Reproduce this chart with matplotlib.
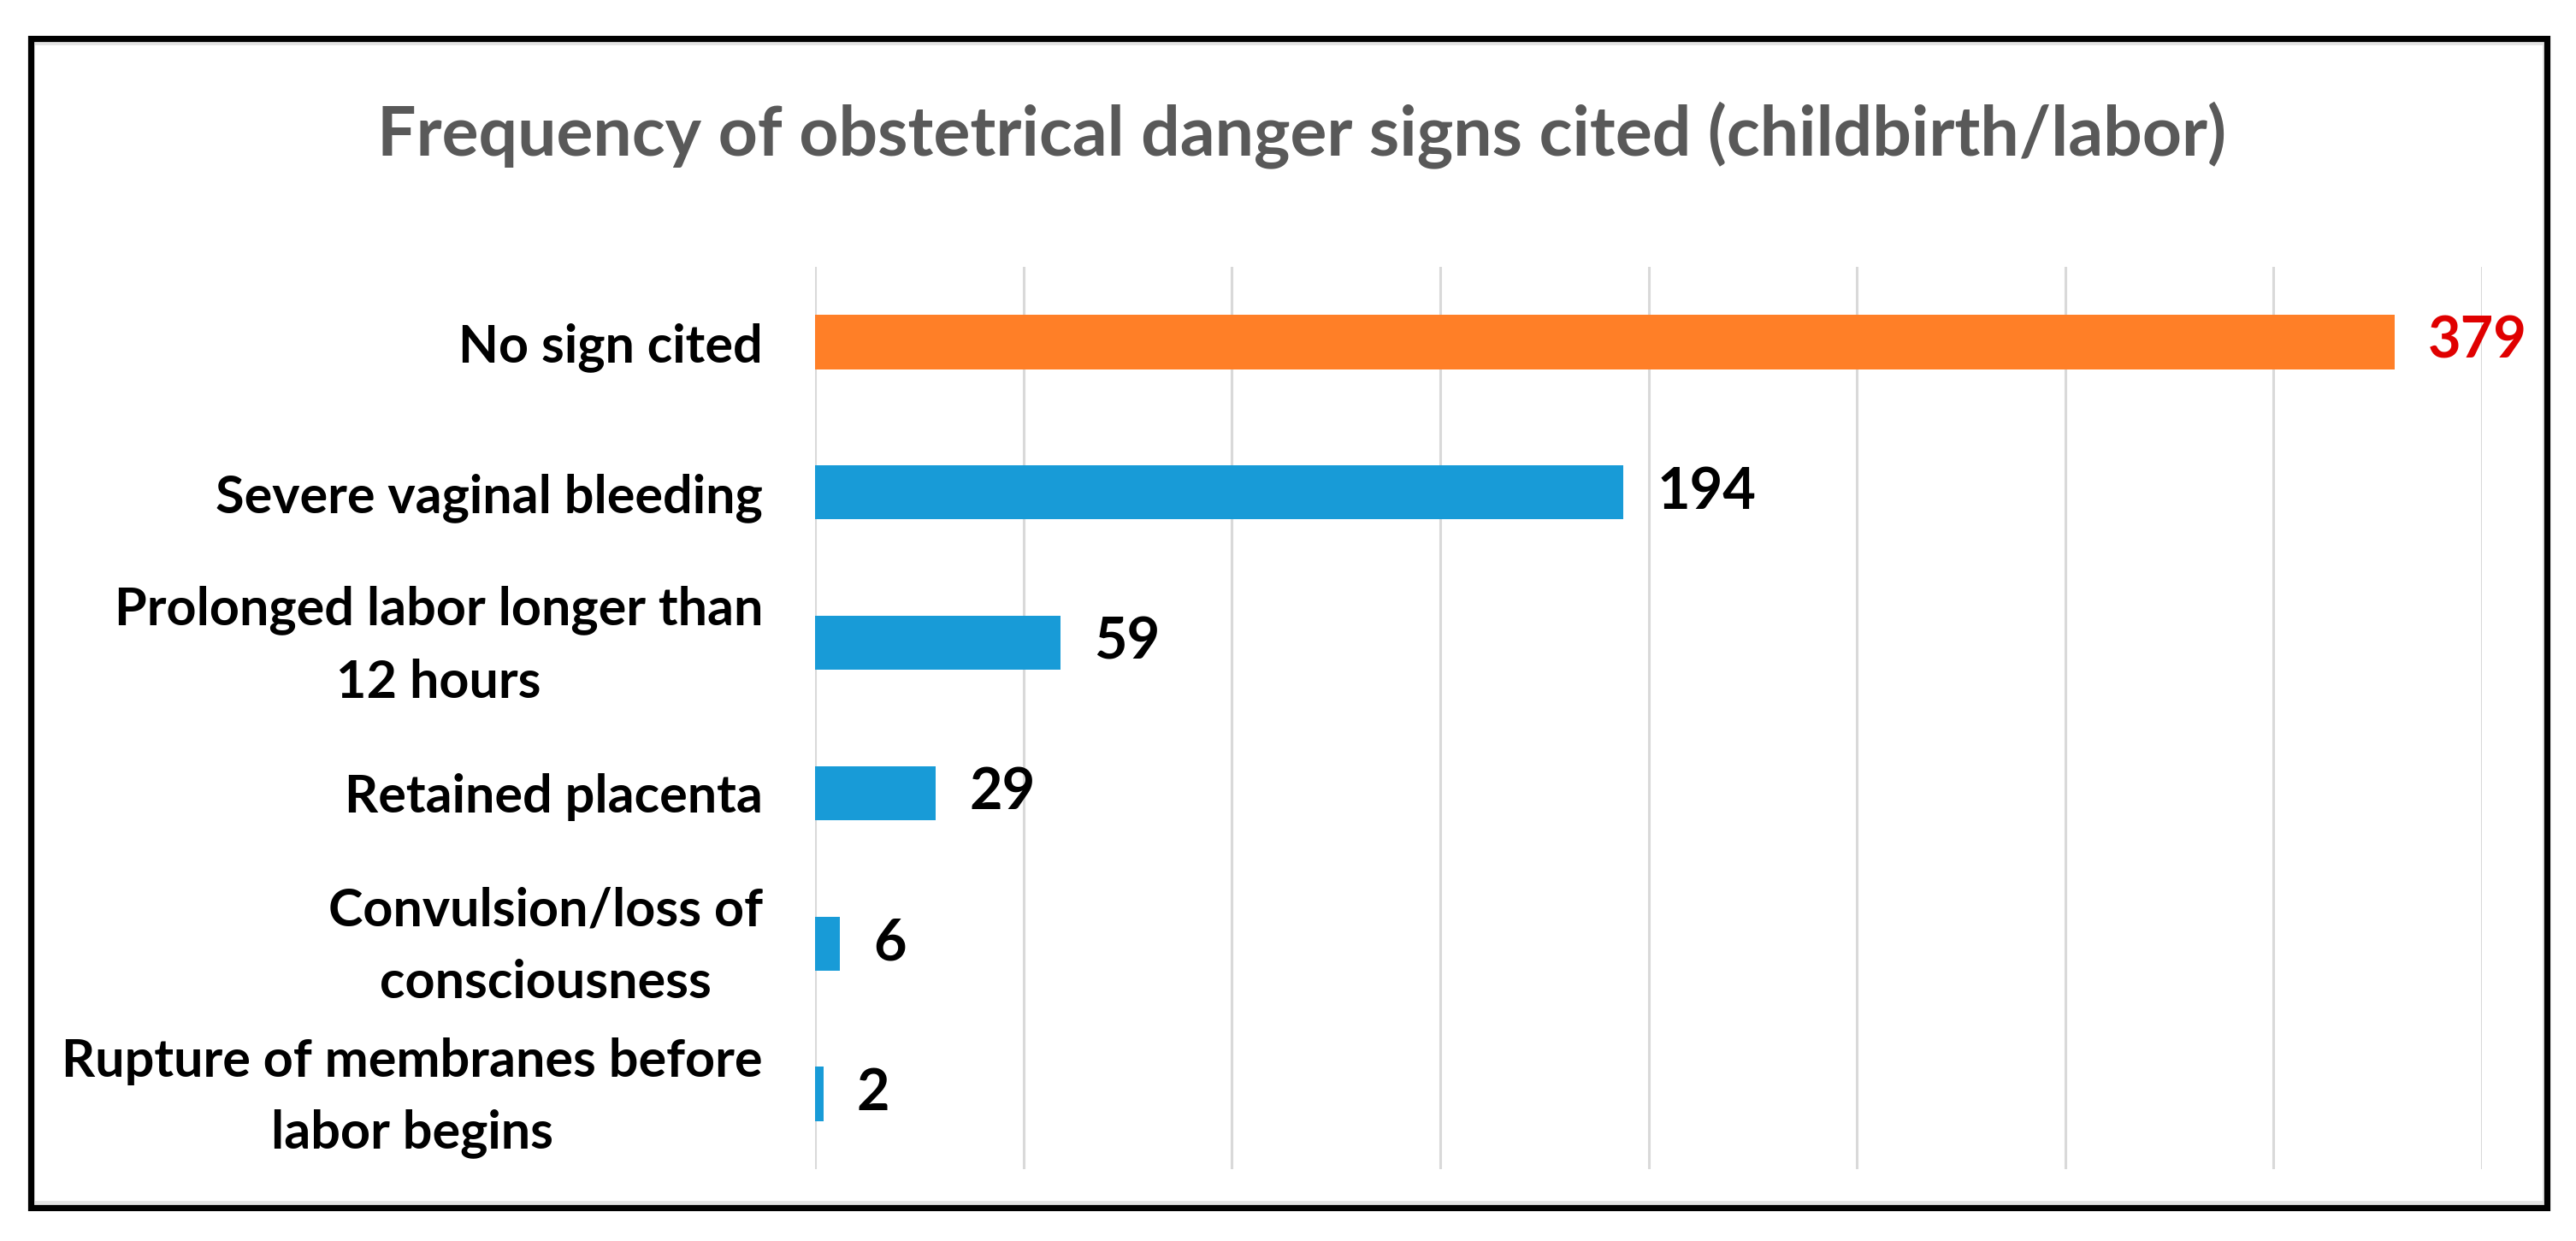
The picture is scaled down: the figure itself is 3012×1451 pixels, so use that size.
import matplotlib
matplotlib.use("Agg")
import matplotlib.pyplot as plt
import matplotlib.transforms as mtransforms
from matplotlib.patches import Rectangle

# data
categories = [
    "No sign cited",
    "Severe vaginal bleeding",
    "Prolonged labor longer than\n12 hours",
    "Retained placenta",
    "Convulsion/loss of\nconsciousness",
    "Rupture of membranes before\nlabor begins",
]
counts = [379, 194, 59, 29, 6, 2]
bar_colors = ["#FF7F27", "#189BD7", "#189BD7", "#189BD7", "#189BD7", "#189BD7"]
label_colors = ["#E00000", "black", "black", "black", "black", "black"]
x_ticks = [0, 50, 100, 150, 200, 250, 300, 350, 400]

title = "Frequency of obstetrical danger signs cited (childbirth/labor)"

plt.rcParams['font.family'] = ['Lato', 'DejaVu Sans']

fig = plt.figure(figsize=(30.12, 14.51), dpi=100)
ax = fig.add_axes([0.3164, 0.0579, 0.9635 - 0.3164, 0.785 - 0.0579])

pos = list(range(len(categories)))
ax.barh(pos, counts, height=0.36, color=bar_colors, zorder=3)

for p, v, c in zip(pos, counts, label_colors):
    ax.annotate(str(v), xy=(v, p), xytext=(28, 0), textcoords="offset points",
                ha="left", va="center", fontsize=48, fontweight="bold", color=c)

ax.set_xlim(0, 400)
ax.set_ylim(len(categories) - 0.5, -0.5)
ax.set_xticks(x_ticks)
ax.set_xticklabels([])
ax.tick_params(axis="x", length=0)
ax.tick_params(axis="y", length=0, pad=44)
ax.set_yticks(pos)
ax.set_yticklabels(categories, fontsize=44, fontweight="bold", multialignment="center",
                   linespacing=1.6)
# two-line labels sit a little high in the original
shift = mtransforms.ScaledTranslation(0, 11 / 72, fig.dpi_scale_trans)
for lbl in ax.get_yticklabels():
    if "\n" in lbl.get_text():
        lbl.set_transform(lbl.get_transform() + shift)
ax.grid(axis="x", color="#D9D9D9", linewidth=2.2, zorder=0)
for s in ax.spines.values():
    s.set_visible(False)

fig.text(0.5053, 1 - 158 / 1451, title, ha="center", va="center", fontsize=58,
         fontweight="bold", color="#595959")

# frame around the chart
fig.patches.append(Rectangle((38 / 3012, 1 - 1406 / 1451), (2975 - 38) / 3012,
                             (1406 - 50) / 1451, transform=fig.transFigure,
                             fill=False, edgecolor="#E3E3E3", linewidth=3.5))
fig.patches.append(Rectangle((36 / 3012, 1 - 1412 / 1451), (2978 - 36) / 3012,
                             (1412 - 45) / 1451, transform=fig.transFigure,
                             fill=False, edgecolor="black", linewidth=5.2))

fig.savefig("out.png", dpi=100, facecolor="white")
